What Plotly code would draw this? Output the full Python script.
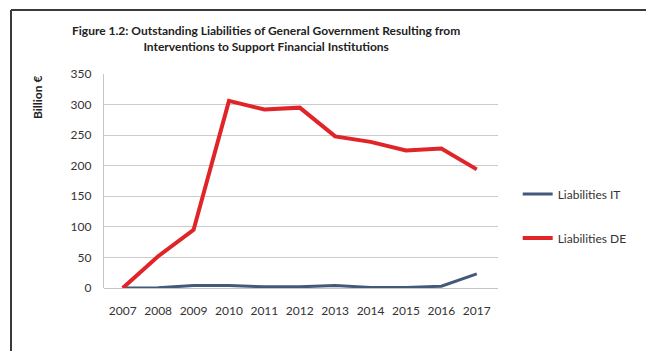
import plotly.graph_objects as go

years = ["2007", "2008", "2009", "2010", "2011", "2012", "2013", "2014", "2015", "2016", "2017"]
liabilities_it = [0, 0.5, 4, 4, 2, 2, 4, 1, 1, 3, 23]
liabilities_de = [0, 52, 95, 306, 292, 295, 248, 239, 225, 228, 194]
y_ticks = [0, 50, 100, 150, 200, 250, 300, 350]

FONT = "Lato"

fig = go.Figure()
fig.add_trace(go.Scatter(
    x=years, y=liabilities_it, mode="lines", name="Liabilities IT",
    line=dict(color="#43597a", width=3), legendgroup="it",
))
fig.add_trace(go.Scatter(
    x=years, y=liabilities_de, mode="lines", name="Liabilities DE",
    line=dict(color="#e02529", width=4), legendgroup="de",
))

fig.update_layout(
    width=646, height=351,
    margin=dict(l=104, r=148, t=74, b=63),
    paper_bgcolor="white", plot_bgcolor="white",
    font=dict(family=FONT, size=12, color="#333333"),
    showlegend=True,
    legend=dict(
        x=1.05, y=0.336, xanchor="left", yanchor="middle",
        font=dict(family=FONT, size=12, color="#333333"),
        itemwidth=30, tracegroupgap=25,
        bgcolor="rgba(0,0,0,0)",
    ),
    xaxis=dict(
        type="category", range=[-0.53, 10.6],
        showgrid=False, showline=False, ticks="",
        ticklabelstandoff=14,
        tickfont=dict(family=FONT, size=12, color="#333333"),
    ),
    yaxis=dict(
        range=[0, 350], tickvals=y_ticks,
        showgrid=True, gridcolor="#cccccc", gridwidth=1.3,
        zeroline=True, zerolinecolor="#c4c4c4", zerolinewidth=1.3,
        showline=True, linecolor="#c4c4c4", linewidth=1.3,
        ticks="", ticklabelstandoff=9,
        tickfont=dict(family=FONT, size=12, color="#333333"),
    ),
    annotations=[
        dict(
            text="<b>Figure 1.2: Outstanding Liabilities of General Government Resulting from</b><br>"
                 "<b>Interventions to Support Financial Institutions</b>",
            xref="paper", yref="paper", x=0.411, y=1.0, yshift=36,
            xanchor="center", yanchor="middle", showarrow=False,
            font=dict(family=FONT, size=12, color="#222222"),
            align="center",
        ),
        dict(
            text="<b>Billion €</b>", textangle=-90,
            xref="paper", yref="paper", x=0, y=1, xshift=-67, yshift=-24,
            xanchor="center", yanchor="middle", showarrow=False,
            font=dict(family=FONT, size=12, color="#222222"),
        ),
    ],
)

# outer frame: left and top edges
fig.add_shape(type="line", xref="paper", yref="paper",
              x0=-93 / 394, x1=-93 / 394, y0=-64 / 214, y1=1 + 64 / 214,
              line=dict(color="#3a3a3a", width=2))
fig.add_shape(type="line", xref="paper", yref="paper",
              x0=-93 / 394, x1=1 + 148 / 394, y0=1 + 64 / 214, y1=1 + 64 / 214,
              line=dict(color="#3a3a3a", width=2))

fig.write_html("out.html")
